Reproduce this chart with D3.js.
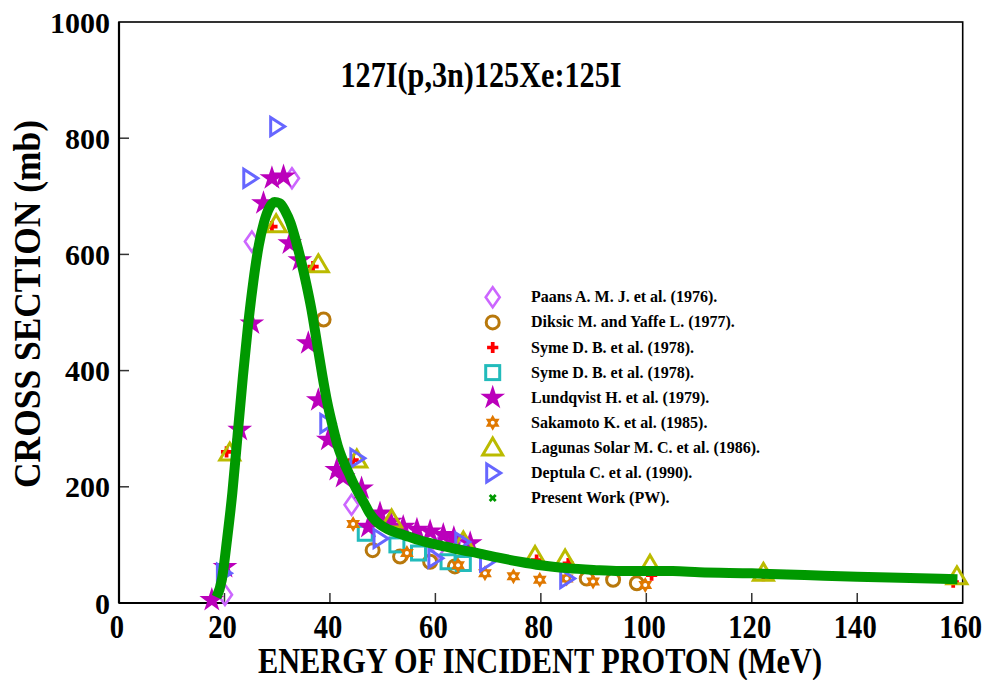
<!DOCTYPE html>
<html><head><meta charset="utf-8">
<script src="https://cdn.jsdelivr.net/npm/d3@7"></script>
<style>body{margin:0;background:#fff}svg{display:block}text{font-family:"Liberation Serif","Times New Roman",serif;font-weight:bold}</style>
</head><body><svg id="c" width="986" height="680"></svg>
<script>
// ---- data ----
const xTicks = [0,20,40,60,80,100,120,140,160];
const yTicks = [0,200,400,600,800,1000];
const pwE = [18.5,19.5,20.5,21.5,22.5,23.5,24.5,25.5,26.5,27.5,28.5,29.5,30.5,31.5,32.5,33.5,34.5,35.5,36.5,37.5,38.5,39.5,40.5,41.5,42.5,43.5,44.5,45.5,46.5,47.5,48.5,49.5,51,53,55,57,59,62,65,68,72,76,80,85,90,95,100,105,110,120,130,140,150,159];
const pwXS = [10,40,110,190,290,390,480,555,615,655,680,690,688,675,655,625,590,550,505,450,395,345,305,270,245,225,205,188,172,155,143,135,127,120,114,108,103,97,91,86,78,71,65,60,57,55,55,55,53,51,48,45,43,41];
const paansE = [20.1,25.2,32.8,44.1,60.5,65.5];
const paansXS = [14,622,731,169,95,98];
const diksicE = [38.8,48.1,53.3,59.0,63.7,88.7,93.7,98.2];
const diksicXS = [488,91,80,71,63,42,40,34];
const symeAE = [20.4,29.0,36.8,44.4,79.2,85.2,101,122.2,158.2];
const symeAXS = [260,648,579,246,74,68,48,47,36];
const symeBE = [46.7,52.7,56.8,62.4,65.3];
const symeBXS = [120,100,86,71,68];
const lundE = [17.6,20.1,22.9,25.2,27.4,29.0,31.2,32.4,34.3,35.9,37.8,39.7,41.3,42.5,46.0,47.3,49.5,51.5,53.9,56.5,59.0,61.5,63.5,66.6];
const lundXS = [5,62,298,481,688,731,734,619,590,447,349,281,229,217,197,131,154,140,131,126,123,117,112,103];
const sakaE = [44.4,54.6,64.3,69.4,74.8,79.8,84.9,89.9,99.8];
const sakaXS = [136,86,65,51,46,40,42,37,31];
const lagE = [21.0,29.8,37.8,45.1,51.7,65.3,78.9,84.6,100.7,122.2,158.9];
const lagXS = [258,651,582,246,143,105,80,74,65,51,45];
const deptE = [19.8,24.8,29.9,39.4,45.1,49.5,59.9,65.0,69.7,84.9];
const deptXS = [51,731,820,309,249,111,77,105,71,42];
const legendLabels = ["Paans A. M. J. et al. (1976).","Diksic M. and Yaffe L. (1977).","Syme D. B. et al. (1978).","Syme D. B. et al. (1978).","Lundqvist H. et al. (1979).","Sakamoto K. et al. (1985).","Lagunas Solar M. C. et al. (1986).","Deptula C. et al. (1990).","Present Work (PW)."];
const titleText = "127I(p,3n)125Xe:125I";

// ---- drawing ----
const svg = d3.select("#c");
const L=119, R=962.7, T=22, B=603;
const x = d3.scaleLinear().domain([0,160]).range([L,R]);
const y = d3.scaleLinear().domain([0,1000]).range([B,T]);

const diamond = "M0,-10L7,0L0,10L-7,0Z";
const upTri = "M0,-10L10,7L-10,7Z";
const rightTri = "M-6,-9L8,0L-6,9Z";
const hexa = "M0,-8L6.9,4L-6.9,4Z M0,8L-6.9,-4L6.9,-4Z";
const markers = [
  {E:paansE, V:paansXS, draw:g=>g.append("path").attr("d",diamond).attr("fill","none").attr("stroke","#cc66ff").attr("stroke-width",2.6)},
  {E:diksicE, V:diksicXS, draw:g=>g.append("circle").attr("r",6.5).attr("fill","none").attr("stroke","#b8780c").attr("stroke-width",3)},
  {E:symeAE, V:symeAXS, draw:g=>g.append("path").attr("d",d3.symbol(d3.symbolCross,70)()).attr("fill","#ff0000")},
  {E:symeBE, V:symeBXS, draw:g=>g.append("rect").attr("x",-7).attr("y",-7).attr("width",14).attr("height",14).attr("fill","none").attr("stroke","#22bbbb").attr("stroke-width",3)},
  {E:lundE, V:lundXS, draw:g=>g.append("path").attr("d",d3.symbol(d3.symbolStar,190)()).attr("fill","#bb00bb")},
  {E:sakaE, V:sakaXS, draw:g=>{g.append("path").attr("d",hexa).attr("fill","#e07800");g.append("circle").attr("r",2).attr("fill","#fff");}},
  {E:lagE, V:lagXS, draw:g=>g.append("path").attr("d",upTri).attr("fill","none").attr("stroke","#bbbb00").attr("stroke-width",3)},
  {E:deptE, V:deptXS, draw:g=>g.append("path").attr("d",rightTri).attr("fill","none").attr("stroke","#6666ff").attr("stroke-width",3)},
  {E:[], V:[], draw:g=>g.append("path").attr("d",d3.symbol(d3.symbolCross,40)()).attr("transform","rotate(45)").attr("fill","#009900")}
];

svg.append("rect").attr("x",L).attr("y",T).attr("width",R-L).attr("height",B-T).attr("fill","none").attr("stroke","#000").attr("stroke-width",1.6);

svg.append("g").selectAll("line").data(xTicks.slice(1,-1)).join("line")
  .attr("x1",d=>x(d)).attr("x2",d=>x(d)).attr("y1",B).attr("y2",B-10).attr("stroke","#333").attr("stroke-width",1.5);
svg.append("g").selectAll("line").data(yTicks.slice(1,-1)).join("line")
  .attr("x1",L).attr("x2",L+10).attr("y1",d=>y(d)).attr("y2",d=>y(d)).attr("stroke","#333").attr("stroke-width",1.5);
svg.append("line").attr("x1",L).attr("x2",R).attr("y1",B).attr("y2",B).attr("stroke","#000").attr("stroke-width",2.2);
svg.append("line").attr("x1",L).attr("x2",L).attr("y1",T).attr("y2",B).attr("stroke","#000").attr("stroke-width",2.2);

svg.append("g").selectAll("text").data(xTicks).join("text")
  .attr("x",d=>x(d)-2).attr("y",638).attr("text-anchor","middle").attr("font-size",33)
  .attr("textLength",d=>String(d).length*14.3).attr("lengthAdjust","spacingAndGlyphs").text(d=>d);
svg.append("g").selectAll("text").data(yTicks).join("text")
  .attr("x",110).attr("y",d=>y(d)+10.5).attr("text-anchor","end").attr("font-size",30).text(d=>d);

svg.append("text").attr("x",540).attr("y",673).attr("text-anchor","middle").attr("font-size",36)
  .attr("textLength",564).attr("lengthAdjust","spacingAndGlyphs").text("ENERGY OF INCIDENT PROTON (MeV)");
svg.append("text").attr("transform","translate(40,304) rotate(-90)").attr("text-anchor","middle").attr("font-size",37)
  .attr("textLength",368).attr("lengthAdjust","spacingAndGlyphs").text("CROSS SECTION (mb)");
svg.append("text").attr("x",481).attr("y",87).attr("text-anchor","middle").attr("font-size",35)
  .attr("textLength",281).attr("lengthAdjust","spacingAndGlyphs").text(titleText);

const plot = svg.append("g");
markers.slice(0,8).forEach(m=>{
  m.E.forEach((e,i)=>{
    const g = plot.append("g").attr("transform",`translate(${x(e)},${y(m.V[i])})`);
    m.draw(g);
  });
});
const line = d3.line().x((d,i)=>x(pwE[i])).y((d,i)=>y(pwXS[i])).curve(d3.curveMonotoneX);
plot.append("path").attr("d",line(pwE)).attr("fill","none").attr("stroke","#009900").attr("stroke-width",10).attr("stroke-linejoin","round");

const lg = svg.append("g");
legendLabels.forEach((t,i)=>{
  const yy = 297.3 + i*25.1;
  const g = lg.append("g").attr("transform",`translate(492.7,${yy})`);
  markers[i].draw(g);
  lg.append("text").attr("x",531).attr("y",yy+5).attr("font-size",16).text(t);
});
</script></body></html>
